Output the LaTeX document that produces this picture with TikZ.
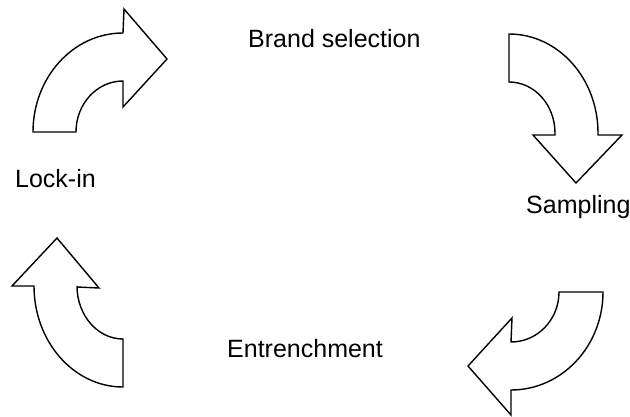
\documentclass[tikz,border=0pt]{standalone}
\usepackage{fontspec}
\setmainfont{Liberation Sans}
\begin{document}
\begin{tikzpicture}[x=1pt,y=1pt,
  blockarrow/.style={draw=black, fill=white, line width=1.4pt, line join=miter},
  label/.style={inner sep=0pt, anchor=base west, font=\fontsize{25}{29}\selectfont}]
\useasboundingbox (0,0) rectangle (630,416);

% top-left curved arrow (Lock-in -> Brand selection)
\draw[blockarrow] (33,284) -- (76,284)
  arc[start angle=180, end angle=90, x radius=47, y radius=51]
  -- (123,309) -- (167,357) -- (124,407) -- (123,383)
  arc[start angle=90, end angle=180, x radius=90, y radius=99] -- cycle;

% top-right curved arrow (Brand selection -> Sampling)
\draw[blockarrow] (509,382) -- (509,334)
  arc[start angle=90, end angle=0, x radius=46, y radius=51]
  -- (555,281) -- (533,281) -- (576,233) -- (622,281) -- (598,281)
  -- (598,283)
  arc[start angle=0, end angle=90, x radius=89, y radius=99] -- cycle;

% bottom-right curved arrow (Sampling -> Entrenchment)
\draw[blockarrow] (603,124) -- (559,124)
  arc[start angle=0, end angle=-90, x radius=48, y radius=50]
  -- (512,98) -- (468,50) -- (511,1) -- (511,26)
  arc[start angle=-90, end angle=0, x radius=92, y radius=98] -- cycle;

% bottom-left curved arrow (Entrenchment -> Lock-in)
\draw[blockarrow] (123,29) -- (123,77)
  arc[start angle=-90, end angle=-180, x radius=46, y radius=53]
  -- (77,129) -- (99,128) -- (57,178) -- (12,130) -- (34,130)
  arc[start angle=180, end angle=270, x radius=89, y radius=101] -- cycle;

% stage labels
\node[label] (brand) at (248,368) {Brand selection};
\node[label] (sampling) at (526,203) {Sampling};
\node[label] (entrench) at (227,59) {Entrenchment};
\node[label] (lockin) at (15,229) {Lock-in};
\end{tikzpicture}
\end{document}
